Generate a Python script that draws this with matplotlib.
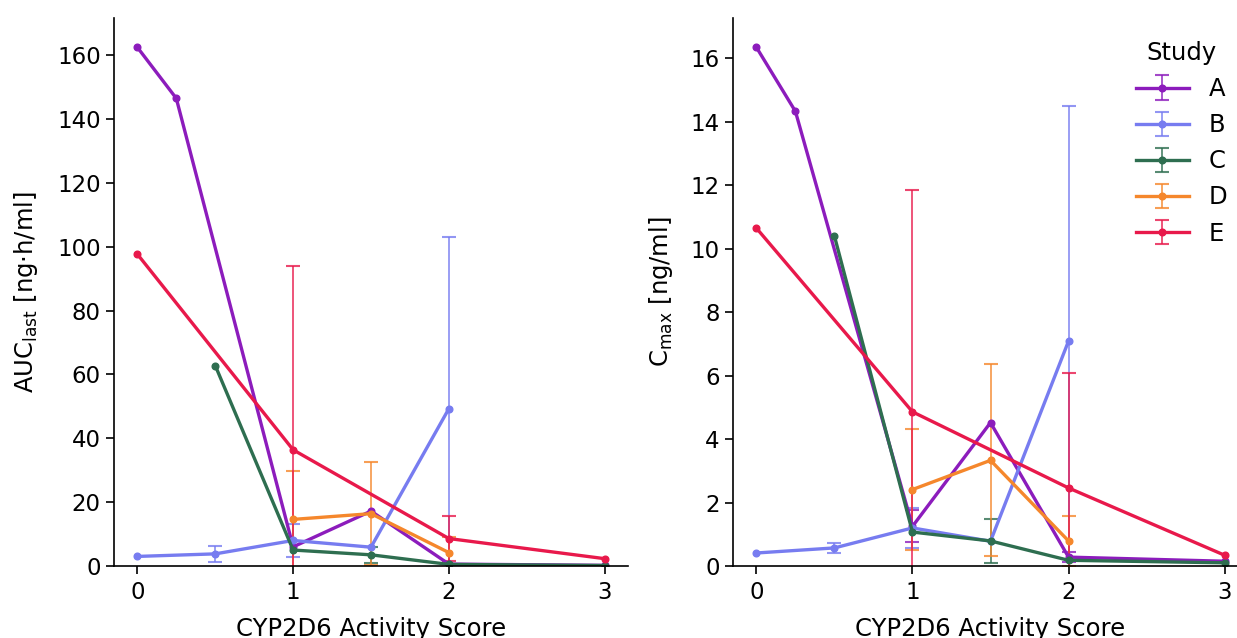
import numpy as np
import matplotlib
matplotlib.use("Agg")
import matplotlib.pyplot as plt

studies = ["A", "B", "C", "D", "E"]
colors = ["#8c1cbc", "#777cf0", "#2e6e50", "#f5872c", "#e8194b"]

# activity score per study
x_vals = {
    "A": [0, 0.25, 1, 1.5, 2, 3],
    "B": [0, 0.5, 1, 1.5, 2],
    "C": [0.5, 1, 1.5, 2, 3],
    "D": [1, 1.5, 2],
    "E": [0, 1, 2, 3],
}

# AUClast [ng*h/ml]
auc_mean = {
    "A": [162.5, 146.5, 6.0, 17.2, 0.6, 0.2],
    "B": [3.0, 3.8, 8.0, 5.9, 49.3],
    "C": [62.8, 5.0, 3.5, 0.5, 0.15],
    "D": [14.6, 16.4, 4.2],
    "E": [97.7, 36.4, 8.6, 2.3],
}
auc_sd = {
    "A": [np.nan] * 6,
    "B": [np.nan, 2.5, 5.2, np.nan, 53.8],
    "C": [np.nan, np.nan, 2.5, np.nan, np.nan],
    "D": [15.3, 16.2, 4.9],
    "E": [np.nan, 57.6, 7.0, np.nan],
}

# Cmax [ng/ml]
cmax_mean = {
    "A": [16.35, 14.33, 1.25, 4.52, 0.28, 0.15],
    "B": [0.41, 0.57, 1.2, 0.78, 7.09],
    "C": [10.4, 1.07, 0.79, 0.18, 0.1],
    "D": [2.41, 3.33, 0.79],
    "E": [10.65, 4.86, 2.46, 0.34],
}
cmax_sd = {
    "A": [np.nan, np.nan, 0.5, np.nan, 0.15, np.nan],
    "B": [np.nan, 0.17, 0.64, np.nan, 7.4],
    "C": [np.nan, np.nan, 0.68, np.nan, np.nan],
    "D": [1.9, 3.03, 0.8],
    "E": [np.nan, 6.98, 3.62, np.nan],
}

plt.rcParams["font.family"] = ["DejaVu Sans"]
plt.rcParams["font.size"] = 16.5

fig = plt.figure(figsize=(12.37, 6.38), dpi=100)
ax1 = fig.add_axes([114 / 1237, 72 / 638, 514 / 1237, 548 / 638])
ax2 = fig.add_axes([733 / 1237, 72 / 638, 515 / 1237, 548 / 638])


def draw(ax, means, sds):
    for s, c in zip(studies, colors):
        eb = ax.errorbar(x_vals[s], means[s], yerr=sds[s], color=c, lw=2.4,
                         marker="o", ms=4.8, capsize=5, elinewidth=1.3,
                         capthick=1.5, label=s)
        for part in eb[1] + eb[2]:
            part.set_alpha(0.8)
    ax.set_ylim(bottom=0)
    ax.set_xticks([0, 1, 2, 3])
    ax.spines["top"].set_visible(False)
    ax.spines["right"].set_visible(False)
    ax.tick_params(length=6, width=1.2, labelsize=16.5)
    ax.tick_params(axis="x", pad=5)
    for sp in ax.spines.values():
        sp.set_linewidth(1.2)
    ax.set_xlabel("CYP2D6 Activity Score", fontsize=17.5, labelpad=9)


draw(ax1, auc_mean, auc_sd)
draw(ax2, cmax_mean, cmax_sd)
ax1.set_ylabel(r"AUC$\mathregular{_{last}}$ [ng·h/ml]", fontsize=17.5, labelpad=12)
ax2.set_ylabel(r"C$\mathregular{_{max}}$ [ng/ml]", fontsize=17.5, labelpad=11)

leg = ax2.legend(title="Study", frameon=False, loc="upper right",
                 bbox_to_anchor=(1249 / 1237, 619 / 638),
                 bbox_transform=fig.transFigure, handlelength=2.2,
                 labelspacing=0.5, fontsize=17.5, title_fontsize=17.5)

fig.savefig("out.png", dpi=100)
